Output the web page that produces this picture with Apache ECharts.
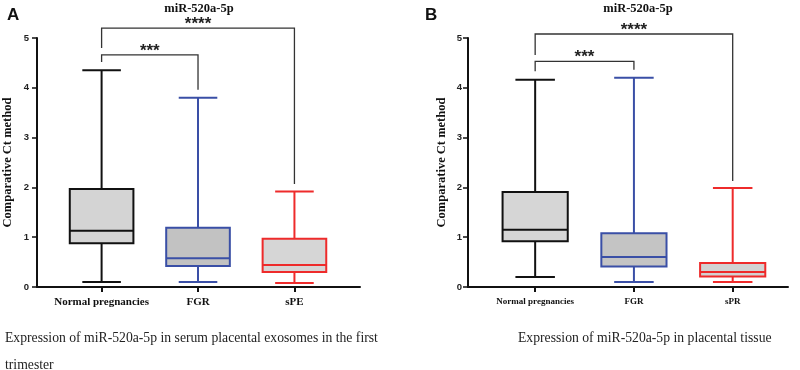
<!DOCTYPE html>
<html>
<head>
<meta charset="utf-8">
<script src="https://cdn.jsdelivr.net/npm/echarts@6/dist/echarts.min.js"></script>
<style>html,body{margin:0;padding:0;background:#fff}#main{width:800px;height:370px}</style>
</head>
<body>
<div id="main"></div>
<script>
// categories
var catsA = ['Normal pregnancies', 'FGR', 'sPE'];
var catsB = ['Normal pregnancies', 'FGR', 'sPR'];
// min, Q1, median, Q3, max
var boxA = [[0.1, 0.88, 1.13, 1.97, 4.35], [0.1, 0.42, 0.575, 1.19, 3.8], [0.08, 0.3, 0.44, 0.97, 1.92]];
var boxB = [[0.2, 0.92, 1.15, 1.91, 4.16], [0.1, 0.41, 0.6, 1.08, 4.2], [0.1, 0.21, 0.3, 0.48, 1.99]];
// brackets: from group, to group, left foot, top, right foot, stars
var bracketA = [[1, 2, 4.52, 4.66, 3.96, '***'], [1, 3, 4.8, 5.2, 2.07, '****']];
var bracketB = [[1, 2, 4.33, 4.53, 4.36, '***'], [1, 3, 4.66, 5.08, 2.13, '****']];
var yTicks = [0, 1, 2, 3, 4, 5];

var strokes = ['#111111', '#3a4fa6', '#ee2b2b'];
var fillsA = ['#d4d4d4', '#c2c2c2', '#d6d6d6'];
var fillsB = ['#d6d6d6', '#c4c4c4', '#d2d2d2'];

var chart = echarts.init(document.getElementById('main'));

function toRows(box) {
    var rows = [];
    for (var i = 0; i < box.length; i++) {
        rows.push([i + 1].concat(box[i]));
    }
    return rows;
}

function boxRender(fills) {
    return function (params, api) {
        var x = api.value(0);
        var lo = api.coord([x, api.value(1)]);
        var q1 = api.coord([x, api.value(2)]);
        var md = api.coord([x, api.value(3)]);
        var q3 = api.coord([x, api.value(4)]);
        var hi = api.coord([x, api.value(5)]);
        var bw = api.size([0.66, 0])[0];
        var cw = api.size([0.4, 0])[0];
        var c = strokes[params.dataIndex];
        var st = { stroke: c, lineWidth: 2, fill: null };
        var cx = lo[0];
        return {
            type: 'group',
            children: [
                { type: 'line', shape: { x1: cx, y1: lo[1], x2: cx, y2: q1[1] }, style: st },
                { type: 'line', shape: { x1: cx, y1: q3[1], x2: cx, y2: hi[1] }, style: st },
                { type: 'line', shape: { x1: cx - cw / 2, y1: lo[1], x2: cx + cw / 2, y2: lo[1] }, style: st },
                { type: 'line', shape: { x1: cx - cw / 2, y1: hi[1], x2: cx + cw / 2, y2: hi[1] }, style: st },
                { type: 'rect', shape: { x: cx - bw / 2, y: q3[1], width: bw, height: q1[1] - q3[1] },
                  style: { stroke: c, lineWidth: 2, fill: fills[params.dataIndex] } },
                { type: 'line', shape: { x1: cx - bw / 2, y1: md[1], x2: cx + bw / 2, y2: md[1] }, style: st }
            ]
        };
    };
}

function bracketRender(params, api) {
    var a = api.coord([api.value(0), api.value(2)]);
    var b = api.coord([api.value(0), api.value(3)]);
    var c = api.coord([api.value(1), api.value(3)]);
    var d = api.coord([api.value(1), api.value(4)]);
    return {
        type: 'group',
        children: [
            { type: 'polyline', shape: { points: [a, b, c, d] }, style: { stroke: '#333', lineWidth: 1.3, fill: null } },
            { type: 'text', style: { text: api.value(5), x: (b[0] + c[0]) / 2, y: b[1] - 4, align: 'center', verticalAlign: 'middle',
                fontSize: 17, fontWeight: 'bold', fontFamily: 'Liberation Sans', fill: '#222' } }
        ]
    };
}

function xAxisFor(idx, cats, min, max, labelFont, labelSize) {
    return {
        type: 'value', gridIndex: idx, min: min, max: max,
        splitLine: { show: false },
        axisLine: { show: true, lineStyle: { color: '#111', width: 2 } },
        axisTick: { show: true, customValues: [1, 2, 3], length: 5, lineStyle: { color: '#111', width: 2 } },
        axisLabel: {
            customValues: [1, 2, 3], margin: 10,
            formatter: function (v) { return cats[Math.round(v) - 1]; },
            fontFamily: labelFont, fontWeight: 'bold', fontSize: labelSize, color: '#111'
        }
    };
}

function yAxisFor(idx, gap, margin) {
    return {
        type: 'value', gridIndex: idx, min: 0, max: 5, interval: 1,
        name: 'Comparative Ct method', nameLocation: 'middle', nameGap: gap,
        nameTextStyle: { fontFamily: 'Liberation Serif', fontWeight: 'bold', fontSize: 12.5, color: '#111' },
        splitLine: { show: false },
        axisLine: { show: true, lineStyle: { color: '#111', width: 2 } },
        axisTick: { show: true, length: 5, lineStyle: { color: '#111', width: 1.5 } },
        axisLabel: {
            margin: margin, fontFamily: 'Liberation Sans', fontWeight: 'bold', fontSize: 9.5, color: '#222',
            formatter: function (v) { return yTicks.indexOf(v) >= 0 ? String(v) : ''; }
        }
    };
}

var capStyle = { fontFamily: 'Liberation Serif', fontWeight: 'normal', fontSize: 13.7, color: '#222' };

var option = {
    backgroundColor: '#fff',
    animation: false,
    title: [
        { text: 'A', left: 2, top: 2, textStyle: { fontFamily: 'Liberation Sans', fontWeight: 'bold', fontSize: 17, color: '#111' } },
        { text: 'B', left: 420, top: 2, textStyle: { fontFamily: 'Liberation Sans', fontWeight: 'bold', fontSize: 17, color: '#111' } },
        { text: 'miR-520a-5p', left: 194, top: -3, textAlign: 'center', textStyle: { fontFamily: 'Liberation Serif', fontWeight: 'bold', fontSize: 12.5, color: '#111' } },
        { text: 'miR-520a-5p', left: 633, top: -3, textAlign: 'center', textStyle: { fontFamily: 'Liberation Serif', fontWeight: 'bold', fontSize: 12.5, color: '#111' } },
        { text: 'Expression of miR-520a-5p in serum placental exosomes in the first', left: 0, top: 326, textStyle: capStyle },
        { text: 'trimester', left: 0, top: 353, textStyle: capStyle },
        { text: 'Expression of miR-520a-5p in placental tissue', left: 513, top: 326, textStyle: capStyle }
    ],
    grid: [
        { left: 30, right: 440, top: 38, bottom: 83 },
        { left: 468, right: 12, top: 38, bottom: 83 }
    ],
    xAxis: [
        xAxisFor(0, catsA, 0.33, 3.68, 'Liberation Sans Narrow', 11),
        xAxisFor(1, catsB, 0.32, 3.56, 'Liberation Serif', 9)
    ],
    yAxis: [yAxisFor(0, 23, 8), yAxisFor(1, 20, 6)],
    series: [
        { type: 'custom', xAxisIndex: 0, yAxisIndex: 0, clip: false, renderItem: boxRender(fillsA),
          encode: { x: 0, y: [1, 2, 3, 4, 5] }, data: toRows(boxA) },
        { type: 'custom', xAxisIndex: 1, yAxisIndex: 1, clip: false, renderItem: boxRender(fillsB),
          encode: { x: 0, y: [1, 2, 3, 4, 5] }, data: toRows(boxB) },
        { type: 'custom', xAxisIndex: 0, yAxisIndex: 0, clip: false, renderItem: bracketRender,
          encode: { x: [0, 1], y: [2, 3, 4] }, data: bracketA },
        { type: 'custom', xAxisIndex: 1, yAxisIndex: 1, clip: false, renderItem: bracketRender,
          encode: { x: [0, 1], y: [2, 3, 4] }, data: bracketB }
    ]
};
chart.setOption(option);
</script>
</body>
</html>
